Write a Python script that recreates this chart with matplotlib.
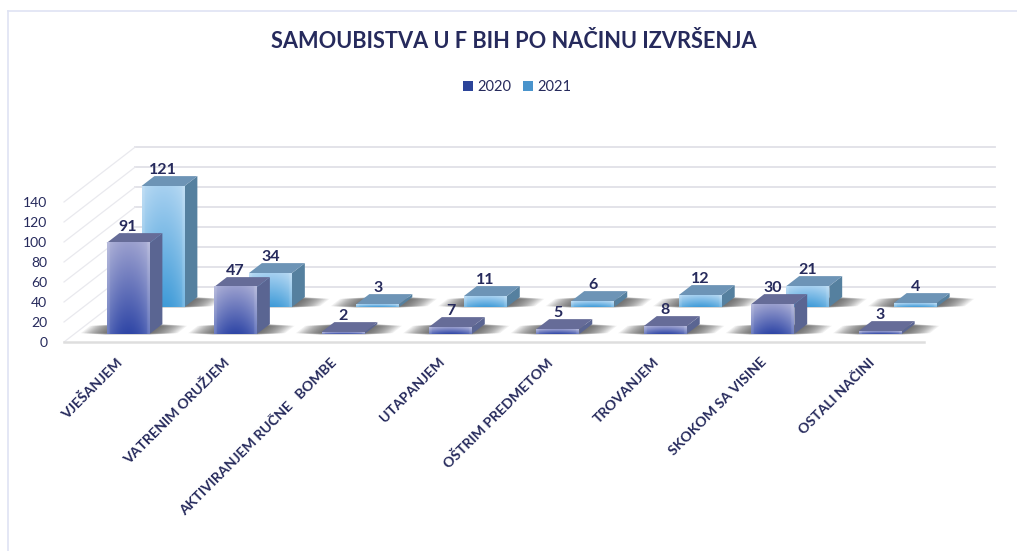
import numpy as np
import matplotlib
matplotlib.use('Agg')
import matplotlib.pyplot as plt
from matplotlib.patches import Polygon, Patch

plt.rcParams['font.family'] = ['Lato', 'DejaVu Sans']

# %% Data
categories = ['VJEŠANJEM', 'VATRENIM ORUŽJEM', 'AKTIVIRANJEM RUČNE   BOMBE', 'UTAPANJEM',
              'OŠTRIM PREDMETOM', 'TROVANJEM', 'SKOKOM SA VISINE', 'OSTALI NAČINI']
values_2020 = [91, 47, 2, 7, 5, 8, 30, 3]
values_2021 = [121, 34, 3, 11, 6, 12, 21, 4]
series_names = ['2020', '2021']
value_ticks = [0, 20, 40, 60, 80, 100, 120, 140]

# %% Look of the fake 3D box
text_color = '#262a5c'
grid_color = '#e0e0e7'
shear_x = 0.663   # category units from front to back of the floor
shear_y = 55      # value units from front to back of the floor
bar_width = 0.40
bar_depth = 0.18
row_start = [0.145, 0.636]
shadow_extra = 0.25

front_top = ['#9a9fce', '#a6d0f0']
front_bottom = ['#2f46a6', '#3f9bd8']
side_color = ['#5a6592', '#55809f']
top_color = ['#666c98', '#6d94b6']
legend_color = ['#2c4499', '#4a94cc']


def project(x, depth, value):
    return x + depth * shear_x, value + depth * shear_y


def front_image(top, bottom):
    # vertical gradient, lighter towards the sides
    rows = np.linspace(0, 1, 60)[:, None, None]
    c_top = np.array(matplotlib.colors.to_rgb(top))[None, None, :]
    c_bot = np.array(matplotlib.colors.to_rgb(bottom))[None, None, :]
    img = c_top * (1 - rows) + c_bot * rows
    img = np.repeat(img, 30, axis=1)
    edge = np.abs(np.linspace(-1, 1, 30))[None, :, None]
    img = img + (0.22 * edge ** 2 + (edge > 0.88) * 0.08) * (1 - img)
    return img


def draw_shadow(ax, x, depth, zorder):
    steps = 16
    for k in range(steps):
        w = bar_width / 2 + shadow_extra * (1 - k / steps)
        trim = 0.03 * (1 - k / steps)
        pts = [project(x - w, depth + trim - 0.015, 0), project(x + w, depth + trim - 0.015, 0),
               project(x + w, depth + bar_depth - trim, 0), project(x - w, depth + bar_depth - trim, 0)]
        ax.add_patch(Polygon(pts, closed=True, fc='#444444', ec='none', alpha=0.075,
                             zorder=zorder, clip_on=False))


def draw_bar(ax, x, depth, value, s, zorder):
    x0, x1 = x - bar_width / 2, x + bar_width / 2
    d1 = depth + bar_depth
    side = [project(x1, depth, 0), project(x1, d1, 0), project(x1, d1, value), project(x1, depth, value)]
    top = [project(x0, depth, value), project(x1, depth, value), project(x1, d1, value), project(x0, d1, value)]
    ax.add_patch(Polygon(side, closed=True, fc=side_color[s], ec='none', zorder=zorder, clip_on=False))
    ax.add_patch(Polygon(top, closed=True, fc=top_color[s], ec='none', zorder=zorder, clip_on=False))
    left, bottom = project(x0, depth, 0)
    right, upper = project(x1, depth, value)
    ax.imshow(front_image(front_top[s], front_bottom[s]), extent=(left, right, bottom, upper),
              aspect='auto', zorder=zorder, clip_on=False, interpolation='bilinear', origin='upper')
    lx, ly = project(x, depth + bar_depth, value)
    ax.annotate(str(value), (project(x, depth, value)[0], ly), xytext=(0, -0.5), textcoords='offset points',
                ha='center', va='bottom', fontsize=11.5, fontweight='bold', color=text_color, zorder=50)


# %% Figure
fig = plt.figure(figsize=(10.17, 5.51), dpi=100)
ax = fig.add_axes([64 / 1017, (551 - 342) / 551, 931 / 1017, 195 / 551])
ax.set_xlim(-0.5, 7.5 + shear_x)
ax.set_ylim(0, 195)
for spine in ax.spines.values():
    spine.set_visible(False)

# outer frame, left and top only
fig.add_artist(plt.Line2D([8 / 1017, 8 / 1017], [0, (551 - 11) / 551], color='#dfe3f3', lw=1.2))
fig.add_artist(plt.Line2D([8 / 1017, 1], [(551 - 11) / 551] * 2, color='#dfe3f3', lw=1.2))

# walls and floor
for v in value_ticks:
    bx, by = project(-0.5, 1, v)
    ex, _ = project(7.5, 1, v)
    ax.plot([bx, ex], [by, by], color=grid_color, lw=1.3, zorder=1, clip_on=False)
    fx, fy = project(-0.5, 0, v)
    ax.plot([fx, bx], [fy, by], color='#e9e9ee', lw=0.9, zorder=1, clip_on=False)
ax.plot([-0.5, 7.5], [0, 0], color='#dedede', lw=1.8, zorder=1, clip_on=False)

# shadows first, then back row, then front row
centers = np.arange(len(categories))
for s, values in enumerate([values_2020, values_2021]):
    for x in centers:
        draw_shadow(ax, x, row_start[s], 2)
for s, values in reversed(list(enumerate([values_2020, values_2021]))):
    for x, v in zip(centers, values):
        draw_bar(ax, x, row_start[s], v, s, 5 + (1 - s) * 5)
ax.set_xlim(-0.5, 7.5 + shear_x)
ax.set_ylim(0, 195)

# %% Axis text
ax.set_yticks(value_ticks)
ax.set_yticklabels([str(v) for v in value_ticks], fontsize=10, color=text_color)
ax.set_xticks(centers - 0.017)
ax.set_xticklabels(categories, rotation=45, ha='right', rotation_mode='anchor',
                   fontsize=10.2, fontweight='bold', color=text_color)
ax.tick_params(axis='y', length=0, pad=12)
ax.tick_params(axis='x', length=0, pad=10)

fig.text(513.5 / 1017, (551 - 42) / 551, 'SAMOUBISTVA U F BIH PO NAČINU IZVRŠENJA', ha='center', va='center',
         fontsize=15.7, fontweight='bold', color=text_color)
handles = [Patch(fc=legend_color[i], ec='none', label=series_names[i]) for i in range(2)]
fig.legend(handles=handles, loc='center', bbox_to_anchor=(517 / 1017, (551 - 87) / 551), ncol=2, frameon=False,
           fontsize=10.5, labelcolor=text_color, handlelength=0.7, handleheight=0.7,
           handletextpad=0.27, columnspacing=0.8)

fig.savefig('out.png', dpi=100)
